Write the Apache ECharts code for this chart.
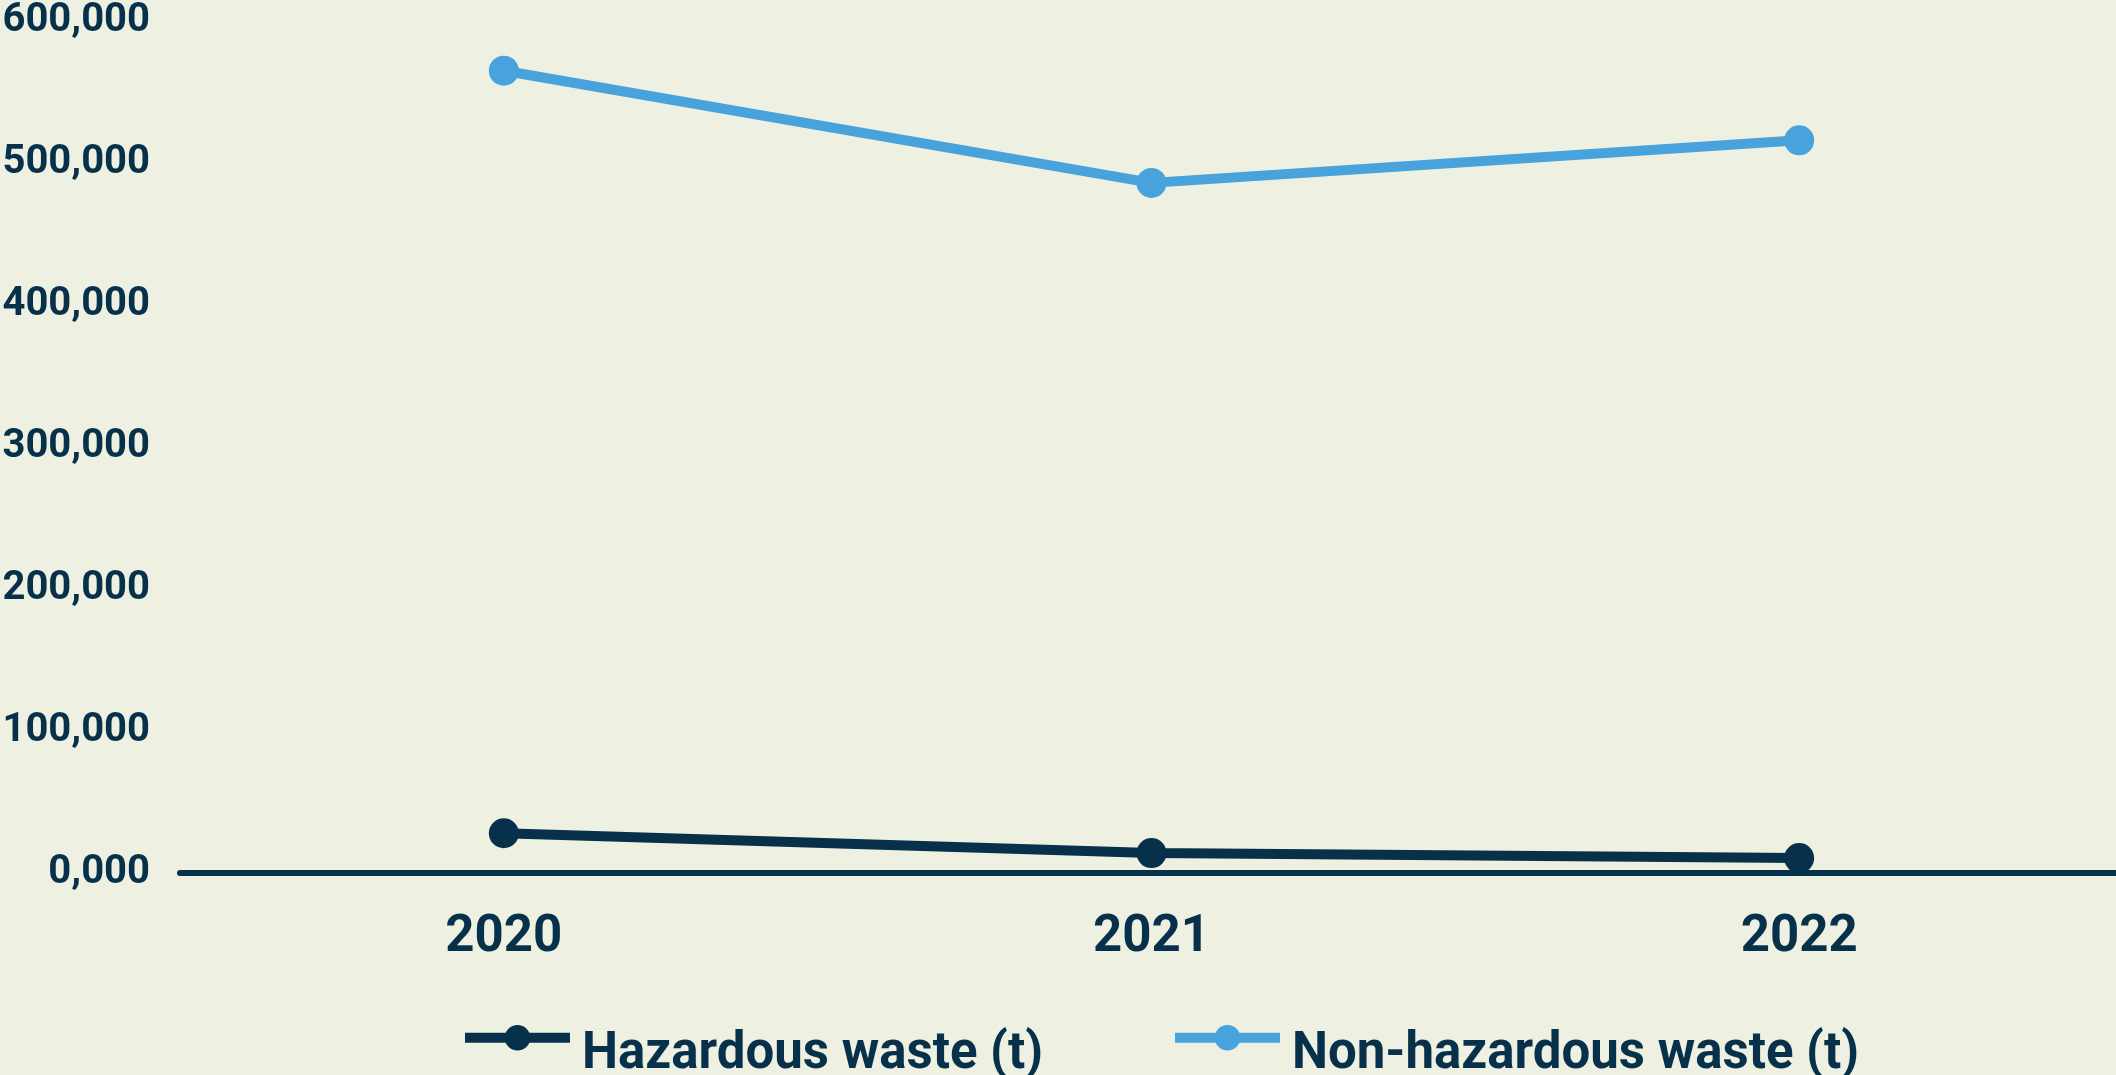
<!DOCTYPE html>
<html>
<head>
<meta charset="utf-8">
<script src="https://cdn.jsdelivr.net/npm/echarts@6/dist/echarts.min.js"></script>
<style>
html,body{margin:0;padding:0;background:#EEF0E2;}
#chart{width:2116px;height:1075px;}
</style>
</head>
<body>
<div id="chart"></div>
<script>
const categories = ['2020', '2021', '2022'];
const hazardous = [28000, 14000, 10500];
const nonHazardous = [565000, 486000, 516000];
const yTickLabels = ['0,000', '100,000', '200,000', '300,000', '400,000', '500,000', '600,000'];
const seriesNames = ['Hazardous waste (t)', 'Non-hazardous waste (t)'];

const DARK = '#07304A';
const BLUE = '#48A2DB';
const FONT = 'Roboto';

const chart = echarts.init(document.getElementById('chart'));
const legendBase = {
  orient: 'horizontal',
  top: 1020,
  itemWidth: 105,
  itemHeight: 32,
  lineStyle: { width: 10 },
  formatter: '{t|{name}}',
  textStyle: {
    fontFamily: FONT, fontWeight: 'bold', fontSize: 51, color: DARK,
    rich: {
      t: {
        fontFamily: FONT, fontWeight: 'bold', fontSize: 51, color: DARK,
        padding: [34, 0, 0, 7]
      }
    }
  }
};
chart.setOption({
  backgroundColor: '#EEF0E2',
  animation: false,
  grid: { left: 180, width: 1943, top: 21, bottom: 202, outerBoundsMode: 'none', containLabel: false },
  legend: [
    Object.assign({}, legendBase, { left: 455, data: [seriesNames[0]] }),
    Object.assign({}, legendBase, { left: 1165, data: [seriesNames[1]] })
  ],
  xAxis: {
    type: 'category',
    data: categories,
    boundaryGap: true,
    axisLine: { lineStyle: { color: DARK, width: 6 } },
    axisTick: { show: false },
    axisLabel: { fontFamily: FONT, fontWeight: 'bold', fontSize: 51, color: DARK, margin: 40 }
  },
  yAxis: {
    type: 'value',
    min: 0, max: 600000, interval: 100000,
    splitLine: { show: false },
    axisLine: { show: false },
    axisTick: { show: false },
    axisLabel: {
      fontFamily: FONT, fontWeight: 'bold', fontSize: 40, color: DARK, margin: 30,
      formatter: v => yTickLabels[Math.round(v / 100000)]
    }
  },
  series: [
    {
      name: seriesNames[0], type: 'line', data: hazardous,
      symbol: 'circle', symbolSize: 30,
      lineStyle: { color: DARK, width: 10 },
      itemStyle: { color: DARK }
    },
    {
      name: seriesNames[1], type: 'line', data: nonHazardous,
      symbol: 'circle', symbolSize: 30,
      lineStyle: { color: BLUE, width: 10 },
      itemStyle: { color: BLUE }
    }
  ]
});
</script>
</body>
</html>
